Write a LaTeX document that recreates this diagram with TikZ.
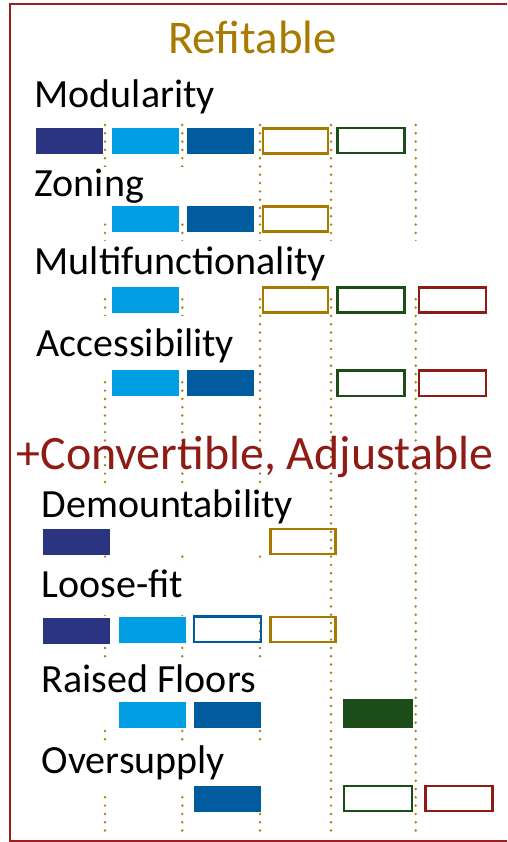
\documentclass[tikz,border=0pt]{standalone}
\usepackage{fontspec}
\setmainfont{Carlito}
\definecolor{navy}{HTML}{2A3481}
\definecolor{cyanb}{HTML}{009FE3}
\definecolor{midblue}{HTML}{005C9F}
\definecolor{gold}{HTML}{A87A00}
\definecolor{dotgold}{HTML}{A87F10}
\definecolor{dgreen}{HTML}{1B4D18}
\definecolor{dred}{HTML}{8F1B15}
\definecolor{framered}{HTML}{9A1F1F}
\tikzset{
  guide/.style={dotgold, line width=2.7pt, line cap=round, dash pattern=on 0pt off 8.3pt},
  mask/.style={fill=white},
  solidbox/.style={minimum width=67pt, minimum height=26pt, inner sep=0pt, draw=none},
  outbox/.style={minimum width=65.2pt, minimum height=25.3pt, inner sep=0pt, line width=2.4pt, draw},
  widebox/.style={outbox, minimum width=67pt},
  lbl/.style={anchor=base west, inner sep=0pt, font=\fontsize{40}{40}\selectfont, text=black},
  head/.style={inner sep=0pt, font=\fontsize{46.8}{48}\selectfont}
}
\begin{document}
\begin{tikzpicture}[x=1pt,y=-1pt]
\useasboundingbox (0,0) rectangle (507,842);
\clip (0,0) rectangle (507,842);
% frame
\draw[framered, line width=2pt] (520,4) -- (9.5,4) -- (9.5,841) -- (520,841);
% guide lines
\foreach \gx in {105,182.3,260,331,415.7} \draw[guide] (\gx,125) -- (\gx,833);
% label backgrounds
\fill[mask] (30,167) rectangle (240,220);
\fill[mask] (30,241) rectangle (425,297);
\fill[mask] (30,316) rectangle (240,377);
\fill[mask] (30,488) rectangle (300,552);
\fill[mask] (30,564) rectangle (300,615);
\fill[mask] (30,663) rectangle (300,726);
\fill[mask] (30,743) rectangle (300,792);
% headings
\node[head, text=gold, anchor=base] (refit) at (252.5,53.3) {Refitable};
\node[head, text=dred, anchor=base west, font=\fontsize{47.9}{48}\selectfont] (conv) at (16.5,469.3) {+Convertible, Adjustable};
% labels
\node[lbl] (lmod) at (34.5,107.3) {Modularity};
\node[lbl] (lzon) at (34.5,196.7) {Zoning};
\node[lbl] (lmul) at (34.5,274) {Multifunctionality};
\node[lbl] (lacc) at (36.5,356) {Accessibility};
\node[lbl] (ldem) at (41.5,517.3) {Demountability};
\node[lbl] (llo) at (41.5,597.3) {Loose-fit};
\node[lbl] (lrai) at (41.5,692.3) {Raised Floors};
\node[lbl] (love) at (41.5,773.3) {Oversupply};
% Modularity row
\node[solidbox, fill=navy] (m1) at (69.4,141) {};
\node[solidbox, fill=cyanb] (m2) at (145.5,141) {};
\node[solidbox, fill=midblue] (m3) at (220.5,141) {};
\node[outbox, draw=gold] (m4) at (295.5,141) {};
\node[widebox, draw=dgreen] (m5) at (370.9,140.5) {};
% Zoning row
\node[solidbox, fill=cyanb] (z2) at (145.5,219) {};
\node[solidbox, fill=midblue] (z3) at (220.5,219) {};
\node[outbox, draw=gold] (z4) at (295.5,219) {};
% Multifunctionality row
\node[solidbox, fill=cyanb] (f2) at (145.5,300) {};
\node[outbox, draw=gold] (f4) at (295.5,300) {};
\node[widebox, draw=dgreen] (f5) at (370.9,300) {};
\node[widebox, draw=dred] (f6) at (452.4,300) {};
% Accessibility row
\node[solidbox, fill=cyanb] (a2) at (145.5,383) {};
\node[solidbox, fill=midblue] (a3) at (220.5,383) {};
\node[widebox, draw=dgreen] (a5) at (370.9,383.3) {};
\node[widebox, draw=dred] (a6) at (452.4,383.3) {};
% Demountability row
\node[solidbox, fill=navy] (d1) at (76.5,542) {};
\node[outbox, draw=gold] (d4) at (302.9,541.5) {};
% Loose-fit row
\node[solidbox, fill=navy] (o1) at (76.5,630.8) {};
\node[solidbox, fill=cyanb] (o2) at (152.5,630) {};
\node[widebox, draw=midblue] (o3) at (227.2,629.2) {};
\node[outbox, draw=gold] (o4) at (302.9,629.4) {};
% Raised Floors row
\node[solidbox, fill=cyanb] (r2) at (152.5,715) {};
\node[solidbox, fill=midblue] (r3) at (227.5,715) {};
\node[solidbox, fill=dgreen, minimum width=70pt, minimum height=28.4pt] (r5) at (378,713.5) {};
% Oversupply row
\node[solidbox, fill=midblue] (s3) at (227.5,799) {};
\node[widebox, draw=dgreen, minimum width=67.6pt] (s5) at (378,798.5) {};
\node[widebox, draw=dred] (s6) at (459,798.5) {};
\end{tikzpicture}
\end{document}
